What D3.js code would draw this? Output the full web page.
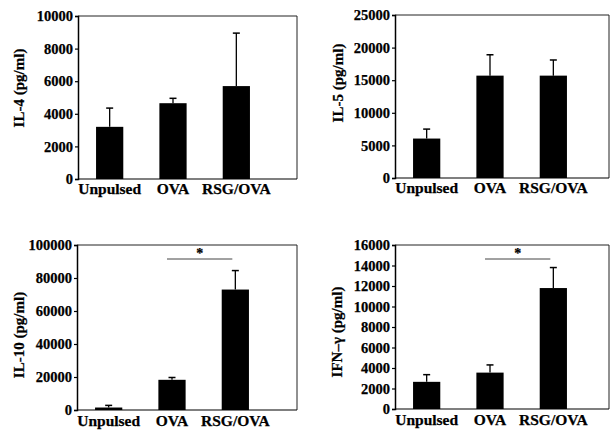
<!DOCTYPE html>
<html><head><meta charset="utf-8">
<script src="https://cdn.jsdelivr.net/npm/d3@7"></script>
<style>
body{margin:0;background:#fff;}
svg text{font-family:"Liberation Serif","Times New Roman",serif;font-weight:bold;fill:#000;stroke:#000;stroke-width:0.25px;}
</style></head>
<body><svg id="c" width="611" height="431"></svg>
<script>
const categories = ["Unpulsed","OVA","RSG/OVA"];

const il4Means = [3200, 4650, 5700];
const il4Errors = [4350, 4950, 8950];
const il4Ticks = [0,2000,4000,6000,8000,10000];

const il5Means = [6050, 15700, 15700];
const il5Errors = [7500, 18900, 18100];
const il5Ticks = [0,5000,10000,15000,20000,25000];

const il10Means = [1500, 18300, 73000];
const il10Errors = [2800, 19700, 84500];
const il10Ticks = [0,20000,40000,60000,80000,100000];

const ifnMeans = [2650, 3550, 11800];
const ifnErrors = [3350, 4300, 13800];
const ifnTicks = [0,2000,4000,6000,8000,10000,12000,14000,16000];

const titles = ["IL-4 (pg/ml)","IL-5 (pg/ml)","IL-10 (pg/ml)","IFN\u2013\u03b3 (pg/ml)"];
const significance = [null, null, ["OVA","RSG/OVA"], ["OVA","RSG/OVA"]];

const panels = [
  {means:il4Means, errs:il4Errors, ticks:il4Ticks, title:titles[0], sig:significance[0],
   x0:78, x1:297, yTop:16, yBot:179, titleX:19, titleY:88, labelDy:15},
  {means:il5Means, errs:il5Errors, ticks:il5Ticks, title:titles[1], sig:significance[1],
   x0:395, x1:609, yTop:15, yBot:178, titleX:338, titleY:83, labelDy:15},
  {means:il10Means, errs:il10Errors, ticks:il10Ticks, title:titles[2], sig:significance[2],
   x0:77, x1:297, yTop:245, yBot:410, titleX:19, titleY:335, labelDy:16},
  {means:ifnMeans, errs:ifnErrors, ticks:ifnTicks, title:titles[3], sig:significance[3],
   x0:395, x1:609, yTop:245, yBot:409, titleX:337, titleY:332, labelDy:16}
];

const svg = d3.select("#c");

panels.forEach(p => {
  const g = svg.append("g");
  const x = d3.scaleBand().domain(categories).range([p.x0, p.x0 + 190]).paddingInner(0.57).paddingOuter(0.285);
  const y = d3.scaleLinear().domain([0, d3.max(p.ticks)]).range([p.yBot, p.yTop]);

  g.append("line").attr("x1",p.x0).attr("x2",p.x1).attr("y1",p.yTop).attr("y2",p.yTop)
    .attr("stroke","#222").attr("stroke-width",1);
  g.append("line").attr("x1",p.x1).attr("x2",p.x1).attr("y1",p.yTop).attr("y2",p.yBot)
    .attr("stroke","#222").attr("stroke-width",1);
  g.append("line").attr("x1",p.x0).attr("x2",p.x1).attr("y1",p.yBot).attr("y2",p.yBot)
    .attr("stroke","#000").attr("stroke-width",1.2);

  const ax = g.append("g").attr("transform",`translate(${p.x0},0)`)
    .call(d3.axisLeft(y).tickValues(p.ticks).tickSize(3).tickPadding(2).tickFormat(d3.format("d")));
  ax.select(".domain").attr("stroke","#000").attr("stroke-width",1.5);
  ax.selectAll(".tick line").attr("stroke","#000").attr("stroke-width",1.2);
  ax.selectAll("text").style("font-size","14.5px").attr("fill","#000");

  g.selectAll("rect.bar").data(p.means).enter().append("rect")
    .attr("x",(d,i)=>x(categories[i])).attr("width",x.bandwidth())
    .attr("y",d=>y(d)).attr("height",d=>p.yBot - y(d)).attr("fill","#000");

  p.errs.forEach((e,i) => {
    const cx = x(categories[i]) + x.bandwidth()/2;
    g.append("line").attr("x1",cx).attr("x2",cx).attr("y1",y(p.means[i])).attr("y2",y(e))
      .attr("stroke","#000").attr("stroke-width",1.3);
    g.append("line").attr("x1",cx-3.5).attr("x2",cx+3.5).attr("y1",y(e)).attr("y2",y(e))
      .attr("stroke","#000").attr("stroke-width",1.5);
  });

  g.selectAll("text.xl").data(categories).enter().append("text")
    .attr("x",d=>x(d)+x.bandwidth()/2).attr("y",p.yBot + p.labelDy)
    .attr("text-anchor","middle").style("font-size","15.5px").text(d=>d);

  g.append("text").attr("transform",`translate(${p.titleX},${p.titleY}) rotate(-90)`)
    .attr("text-anchor","middle").attr("dominant-baseline","central")
    .style("font-size","15px").text(p.title);

  if (p.sig) {
    const xa = x(p.sig[0]) + x.bandwidth()/2 - 5;
    const xb = x(p.sig[1]) + x.bandwidth()/2 - 3;
    g.append("line").attr("x1",xa).attr("x2",xb).attr("y1",p.yTop+14).attr("y2",p.yTop+14)
      .attr("stroke","#444").attr("stroke-width",1);
    g.append("text").attr("x",(xa+xb)/2).attr("y",p.yTop+13)
      .attr("text-anchor","middle").style("font-size","14px").text("*");
  }
});
</script></body></html>
